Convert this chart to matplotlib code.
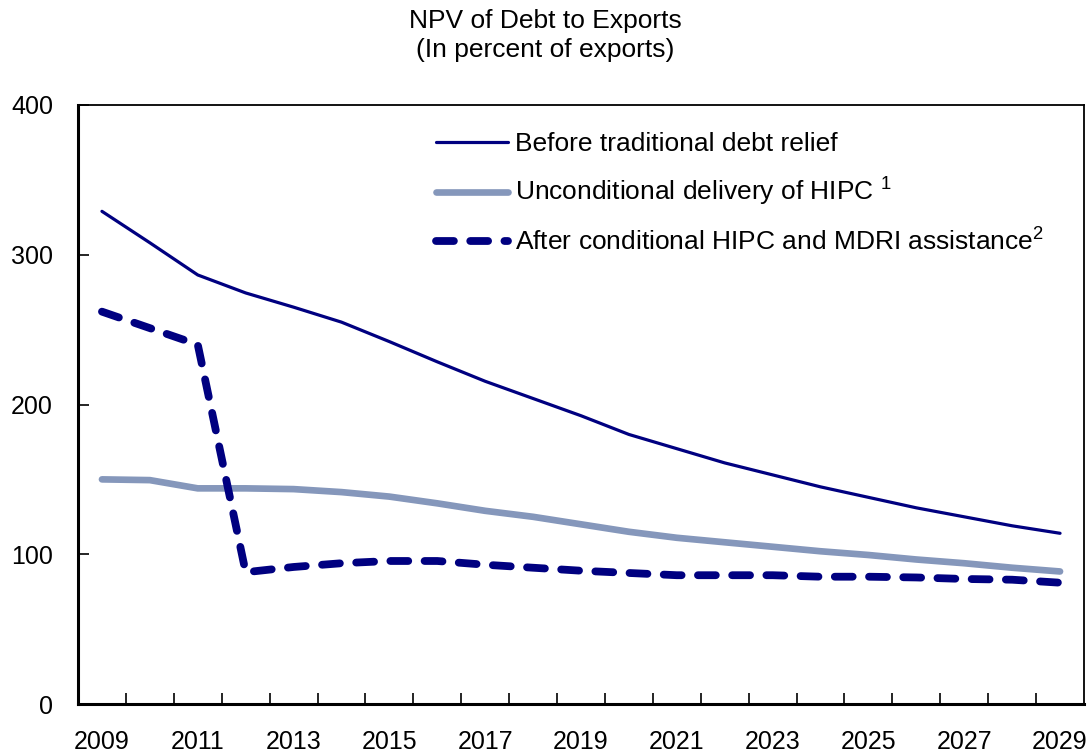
import matplotlib
matplotlib.use("Agg")
import matplotlib.pyplot as plt
import numpy as np

plt.rcParams['font.family'] = ['Liberation Sans', 'DejaVu Sans']
plt.rcParams['mathtext.fontset'] = 'custom'
plt.rcParams['mathtext.rm'] = 'Liberation Sans'
plt.rcParams['mathtext.default'] = 'regular'

years = list(range(2009, 2030))
before_relief = [329, 308, 286.5, 274.5, 265, 255, 242, 228.5, 215.5, 204, 192.5,
                 180, 170.5, 161, 153, 145, 138, 131, 125, 119, 114]
unconditional_hipc = [150, 149.5, 144, 144, 143.5, 141.5, 138.5, 134, 129, 125, 120,
                      115, 111, 108, 105, 102, 99.5, 96.5, 94, 91, 88.5]
after_mdri = [262, 251, 240, 88, 91.5, 94, 95.5, 95.5, 93, 91, 89,
              87.5, 86, 86, 86, 85, 85, 84.5, 83.5, 83, 81]
tick_labels = [str(y) for y in years[::2]]

labels = ['Before traditional debt relief',
          r'Unconditional delivery of HIPC $^{1}$',
          r'After conditional HIPC and MDRI assistance$^{2}$']

navy = '#000080'

fig = plt.figure(figsize=(10.91, 7.55), dpi=100)
ax = fig.add_axes([78/1091, 1-704/755, (1084-78)/1091, (704-105)/755])

x = np.arange(len(years))
ax.plot(x, before_relief, color=navy, lw=2.3, solid_capstyle='round',
        label=labels[0], zorder=3)
ax.plot(x, unconditional_hipc, color='#8597bb', lw=4.8, solid_capstyle='round',
        label=labels[1], zorder=2)
ax.plot(x, after_mdri, color=navy, lw=5.6, dashes=(2.3, 2.1),
        dash_capstyle='round', label=labels[2], zorder=4)

ax.set_xlim(-0.5, len(years) - 0.5)
ax.set_ylim(0, 400)
ax.set_yticks([0, 100, 200, 300, 400])
ax.set_xticks(x[::2])
ax.set_xticklabels(tick_labels)
ax.set_xticks(np.arange(0.5, len(years) - 1, 1), minor=True)

ax.tick_params(axis='x', which='major', length=0, pad=19, labelsize=18)
ax.tick_params(axis='x', which='minor', direction='in', length=8, width=1.2)
ax.tick_params(axis='y', which='major', direction='in', length=8, width=1.2,
               pad=18, labelsize=18)

for side in ['left', 'bottom']:
    ax.spines[side].set_linewidth(2.2)
for side in ['top', 'right']:
    ax.spines[side].set_linewidth(1.3)

leg = ax.legend(loc='upper left', bbox_to_anchor=(0.345, 0.972), frameon=False,
                fontsize=19, handlelength=2.75, handletextpad=0.27,
                labelspacing=0.75, borderaxespad=0)

fig.text(545/1091, 1-21/755, 'NPV of Debt to Exports', ha='center', va='center',
         fontsize=19)
fig.text(545/1091, 1-50/755, '(In percent of exports)', ha='center', va='center',
         fontsize=19)

fig.savefig('out.png', dpi=100)
